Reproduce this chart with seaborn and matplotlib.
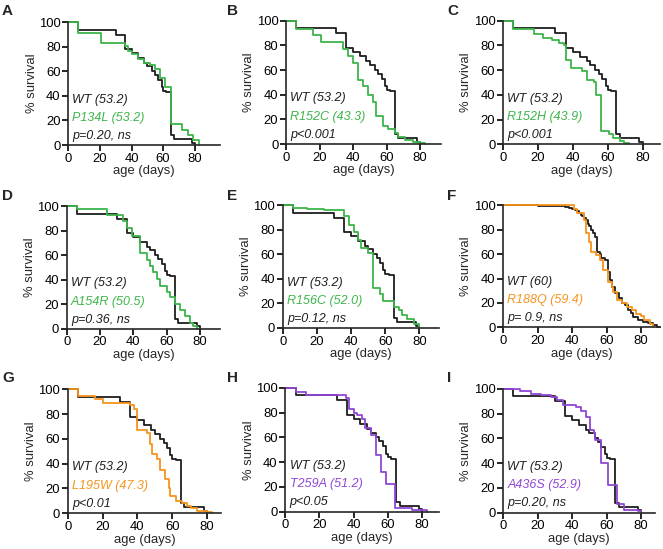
import matplotlib
matplotlib.use("Agg")
import matplotlib.pyplot as plt
import seaborn as sns
import pandas as pd

# shared wild-type curve (median 53.2)
wt_days = [0, 6, 30, 36, 40, 44, 48, 50, 53, 55, 57, 59, 60, 62, 65, 67, 78, 80]
wt_surv = [100, 94, 90, 78, 75, 71, 67, 64, 60, 57, 53, 47, 44, 43, 8, 5, 2, 0]

# wild-type curve of panel F (median 60)
wt60_days = [0, 20, 36, 38, 40, 42, 43, 44, 45, 46, 47, 48, 49, 50, 51, 52, 53.5, 54.5,
             56, 57, 59, 61, 62, 63, 65, 67, 69, 71, 72.6, 74, 75.5, 78, 81, 84, 87, 89, 91]
wt60_surv = [100, 99.5, 99, 98, 97, 96, 95, 93.5, 92, 91, 89.5, 88, 85, 83, 80, 77, 74, 62,
             60, 57, 55, 45, 39, 33, 28, 24, 20, 18, 14, 11.5, 8.7, 6, 4.6, 3.3, 1.9, 0.5, 0]

p134l_days = [0, 6, 21, 36, 38, 40, 44, 48, 52, 55, 58, 61, 65, 72, 76, 79, 83]
p134l_surv = [100, 91, 83, 81, 77, 74, 70, 67, 65, 62, 55, 47, 17, 12, 8, 4, 0]

r152c_days = [0, 6, 16, 21, 34, 37, 40, 43, 46, 49, 52, 54, 58, 61, 65, 67, 71, 76, 80, 83]
r152c_surv = [100, 93, 88, 83, 77, 71, 66, 52, 47, 40, 34, 23, 15, 12, 9, 6, 3, 2, 1, 0]

r152h_days = [0, 6, 18, 23, 28, 32, 35, 36, 39, 45, 48, 52, 53.5, 56, 61, 63, 67, 69.5, 72]
r152h_surv = [100, 93, 89, 86, 84, 82, 80, 68, 62, 59, 52, 50, 40, 11, 8, 5, 3, 1, 0]

a154r_days = [0, 6, 24, 34, 36, 39, 44, 48, 50, 52, 54, 56, 60, 62, 65, 68, 71, 74, 76, 78]
a154r_surv = [100, 98, 93, 88, 82, 76, 62, 56, 51, 46, 41, 35, 30, 26, 20, 15, 10, 5, 2, 0]

r156c_days = [0, 6, 14, 24, 36, 39, 42, 44, 46, 50, 53, 57, 59, 65, 68, 70, 73, 77, 80]
r156c_surv = [100, 98, 97, 96, 91, 84, 78, 72, 65, 61, 33, 28, 22, 17, 15, 11, 7, 3, 0]

r188q_days = [0, 41, 43, 47, 48, 50, 51, 54, 56, 58, 61, 63, 64, 66, 69, 72, 75, 77, 80, 82, 85, 87]
r188q_surv = [100, 97, 94, 88, 77, 70, 62, 59, 55, 47, 37, 33, 29, 22, 20, 17, 14, 11, 9, 6, 3, 0]

l195w_days = [0, 6, 15.7, 20.5, 36, 38, 40, 45.5, 47, 48.5, 51, 53, 56, 58, 59, 62, 65.6, 68.5, 71, 74, 80, 83]
l195w_surv = [100, 95, 92, 89, 87, 84, 67, 65, 56, 48, 44, 35, 28, 20, 14, 10, 8, 6, 4, 2, 1, 0]

t259a_days = [0, 6, 12, 35.5, 37.5, 40.4, 42, 45, 46.6, 50, 53, 56, 59, 64, 74, 83]
t259a_surv = [100, 97, 94, 92, 83, 80, 78, 75, 68, 62, 46, 32, 22, 3, 1, 0]

a436s_days = [0, 10, 16, 22, 28, 31, 35, 42, 45, 48, 50.5, 52.4, 53, 57, 61, 66, 70, 78, 80]
a436s_surv = [100, 98, 96, 95, 93, 91, 87, 85, 82, 77, 67, 64, 59, 40, 22, 7, 2, 1, 0]

letters = ["A", "B", "C", "D", "E", "F", "G", "H", "I"]
wt_names = ["WT (53.2)"] * 5 + ["WT (60)"] + ["WT (53.2)"] * 3
mut_names = ["P134L (53.2)", "R152C (43.3)", "R152H (43.9)", "A154R (50.5)", "R156C (52.0)",
             "R188Q (59.4)", "L195W (47.3)", "T259A (51.2)", "A436S (52.9)"]
p_texts = ["p=0.20, ns", "p<0.001", "p<0.001", "p=0.36, ns", "p=0.12, ns",
           "p= 0.9, ns", "p<0.01", "p<0.05", "p=0.20, ns"]
mut_curves = [(p134l_days, p134l_surv), (r152c_days, r152c_surv), (r152h_days, r152h_surv),
              (a154r_days, a154r_surv), (r156c_days, r156c_surv), (r188q_days, r188q_surv),
              (l195w_days, l195w_surv), (t259a_days, t259a_surv), (a436s_days, a436s_surv)]

GREEN, ORANGE, PURPLE, BLACK = "#3db54a", "#f7941d", "#9146d6", "#1e1e1e"
mut_colors = [GREEN] * 5 + [ORANGE, ORANGE, PURPLE, PURPLE]

# axes boxes in pixels: left, top, right, bottom, and x-axis end (days)
boxes = [(68.3, 22.3, 220, 145, 96), (286, 20.7, 441, 144, 92.5), (503, 20.7, 660, 144.3, 90),
         (66.7, 206.3, 220, 328.7, 92), (282.7, 205.3, 439, 328, 91.5), (503, 205.3, 660, 327.3, 91),
         (67.7, 389.3, 221, 513.3, 88), (285.3, 388, 439, 511.7, 90), (503, 388.7, 655, 512.7, 88)]
letter_x = [2, 227, 447]
letter_y = [4, 189, 371]

W, H = 663, 549
sns.set_style("ticks")
plt.rcParams["font.family"] = ["Liberation Sans", "DejaVu Sans"]
plt.rcParams["axes.linewidth"] = 1.2

fig = plt.figure(figsize=(W / 100, H / 100), dpi=100)

for i in range(9):
    l, t, r, b, xmax = boxes[i]
    ax = fig.add_axes([l / W, 1 - b / H, (r - l) / W, (b - t) / H])

    if i == 5:
        wd, ws = wt60_days, wt60_surv
    else:
        wd, ws = wt_days, wt_surv
    md, ms = mut_curves[i]
    df = pd.concat([
        pd.DataFrame({"day": wd, "surv": ws, "group": "wt"}),
        pd.DataFrame({"day": md, "surv": ms, "group": "mut"}),
    ], ignore_index=True)
    sns.lineplot(data=df, x="day", y="surv", hue="group",
                 palette={"wt": BLACK, "mut": mut_colors[i]},
                 estimator=None, sort=False, legend=False,
                 drawstyle="steps-post", lw=1.3, clip_on=False, ax=ax)

    ax.set_xlim(0, xmax)
    ax.set_ylim(0, 100)
    ax.set_xticks([0, 20, 40, 60, 80])
    ax.set_yticks([0, 20, 40, 60, 80, 100])
    ax.tick_params(direction="out", length=4, width=1.2, pad=1.5, labelsize=9.4, colors="black")
    ax.set_xlabel("age (days)", fontsize=9.4, labelpad=0.5)
    ax.set_ylabel("% survival", fontsize=9.4, labelpad=1)
    sns.despine(ax=ax)

    ax.text(2.5, 37, wt_names[i], style="italic", fontsize=9, color=BLACK, va="center")
    ax.text(2.5, 22, mut_names[i], style="italic", fontsize=9, color=mut_colors[i], va="center")
    ax.text(2.5, 7.5, p_texts[i], style="italic", fontsize=9, color=BLACK, va="center")

    fig.text(letter_x[i % 3] / W, 1 - letter_y[i // 3] / H, letters[i],
             fontsize=11, fontweight="bold", ha="left", va="top")

fig.savefig("out.png", dpi=100)
